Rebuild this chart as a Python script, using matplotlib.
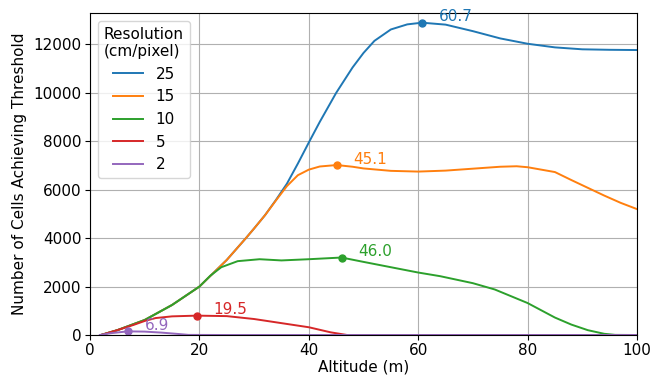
import matplotlib
matplotlib.use("Agg")
import matplotlib.pyplot as plt

# altitude samples (m) and cell counts
alt_25 = [2, 5, 10, 15, 20, 25, 28.5, 30, 32, 34, 36, 38, 40, 42, 45, 48, 50, 52, 55, 58, 60.7, 65, 70, 75, 80, 85, 90, 95, 100]
cells_25 = [0, 200, 620, 1240, 2000, 3100, 4000, 4400, 4950, 5580, 6250, 7080, 7950, 8800, 10000, 11050, 11650, 12150, 12620, 12830, 12900, 12820, 12550, 12250, 12030, 11880, 11800, 11780, 11770]

alt_15 = [2, 5, 10, 15, 20, 25, 28.5, 30, 32, 34, 36, 38, 40, 42, 45.1, 48, 50, 55, 60, 65, 70, 75, 78, 80, 85, 88, 91, 94, 97, 100]
cells_15 = [0, 200, 620, 1240, 2000, 3100, 4000, 4400, 4950, 5560, 6150, 6600, 6830, 6960, 7020, 6950, 6880, 6780, 6750, 6790, 6870, 6950, 6970, 6930, 6730, 6400, 6080, 5760, 5460, 5200]

alt_10 = [2, 5, 10, 15, 20, 22, 24, 27, 31, 35, 40, 46.0, 50, 55, 60, 64, 70, 74, 80, 85, 88, 91, 94, 96, 100]
cells_10 = [0, 200, 620, 1240, 2000, 2450, 2800, 3050, 3130, 3080, 3130, 3200, 3020, 2800, 2580, 2430, 2140, 1880, 1320, 720, 430, 200, 50, 5, 0]

alt_5 = [2, 5, 8, 10, 12, 15, 19.5, 25, 30, 35, 40, 44, 47, 60, 80, 100]
cells_5 = [0, 200, 420, 580, 700, 770, 800, 780, 660, 490, 320, 110, 0, 0, 0, 0]

alt_2 = [1.8, 4, 6.9, 10, 13, 16, 18, 25, 40, 60, 80, 100]
cells_2 = [0, 80, 150, 140, 100, 45, 5, 0, 0, 0, 0, 0]

resolutions = ['25', '15', '10', '5', '2']
peak_alt = [60.7, 45.1, 46.0, 19.5, 6.9]
peak_cells = [12900, 7020, 3200, 800, 150]
colors = ['#1f77b4', '#ff7f0e', '#2ca02c', '#d62728', '#9467bd']

fig = plt.figure(figsize=(6.67, 3.77), dpi=100)
ax = fig.add_axes([90/667, 42/377, 547/667, 322/377])

series = [(alt_25, cells_25), (alt_15, cells_15), (alt_10, cells_10), (alt_5, cells_5), (alt_2, cells_2)]
for (x, y), res, c in zip(series, resolutions, colors):
    ax.plot(x, y, color=c, lw=1.4, label=res)

for px, py, c in zip(peak_alt, peak_cells, colors):
    ax.plot(px, py, 'o', color=c, ms=5)
    ax.annotate(f"{px:.1f}", (px, py), xytext=(12, 1), textcoords='offset points',
                color=c, fontsize=11)

ax.set_xlim(0, 100)
ax.set_ylim(0, 13300)
ax.set_xlabel("Altitude (m)", fontsize=11, labelpad=1)
ax.set_ylabel("Number of Cells Achieving Threshold", fontsize=11, labelpad=5)
ax.tick_params(labelsize=11, pad=2.5)
ax.grid(True, color='#b0b0b0', lw=0.8)
ax.legend(title="Resolution\n(cm/pixel)", loc='upper left', fontsize=11, title_fontsize=11)

fig.savefig("out.png", dpi=100)
